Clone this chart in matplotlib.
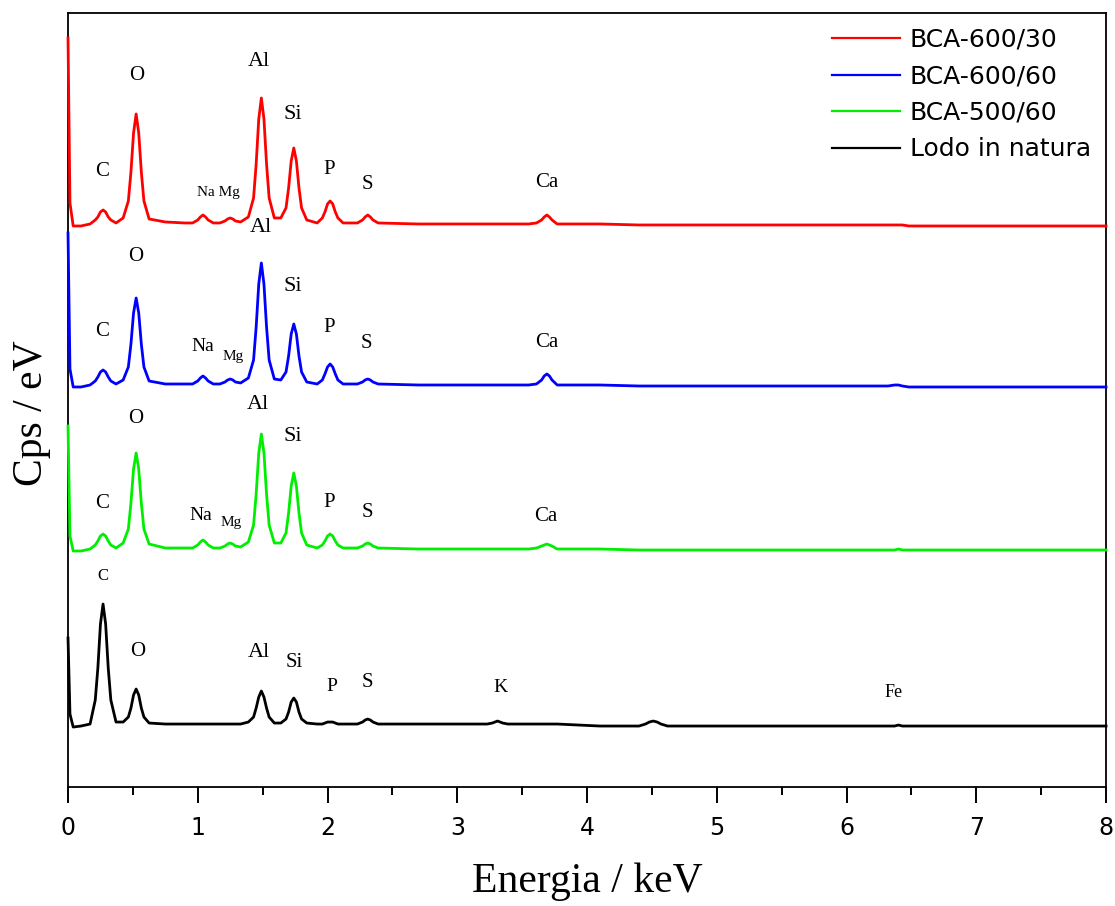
import numpy as np
import matplotlib.pyplot as plt

# energy grid (keV), denser around the peaks
energy = [
    0.000, 0.015, 0.04, 0.10, 0.17,                            # start spike
    0.21, 0.23, 0.25, 0.27, 0.29, 0.31, 0.33, 0.37,            # C
    0.425, 0.465, 0.485, 0.505, 0.525, 0.545, 0.565, 0.585, 0.625,  # O
    0.75, 0.90,
    0.96, 1.00, 1.02, 1.04, 1.06, 1.08, 1.12,                  # Na
    1.17, 1.21, 1.23, 1.25, 1.27, 1.29, 1.33,                  # Mg
    1.39, 1.43, 1.45, 1.47, 1.49, 1.51, 1.53, 1.55, 1.59,      # Al
    1.64, 1.68, 1.70, 1.72, 1.74, 1.76, 1.78, 1.80, 1.84,      # Si
    1.92, 1.96, 1.98, 2.00, 2.02, 2.04, 2.06, 2.08, 2.12,      # P
    2.23, 2.27, 2.29, 2.31, 2.33, 2.35, 2.39,                  # S
    2.70, 3.00,
    3.23, 3.27, 3.29, 3.31, 3.33, 3.35, 3.39,                  # K
    3.55, 3.61, 3.65, 3.67, 3.69, 3.71, 3.73, 3.77,            # Ca
    4.10,
    4.40, 4.45, 4.48, 4.51, 4.54, 4.57, 4.62,
    5.20, 5.80,
    6.32, 6.37, 6.40, 6.43, 6.48,                              # Fe
    7.00, 7.50, 8.00,
]

bca_600_30 = [
    185, 20, -3, -3, -1,
    3, 6, 11, 13, 11, 6, 3, 0,
    5, 22, 51, 90, 109, 90, 51, 22, 4,
    1, 0,
    0, 3, 6, 8, 6, 3, 0,
    0, 2, 4, 5, 4, 2, 1,
    6, 25, 59, 104, 125, 104, 59, 25, 5,
    5, 15, 35, 62, 75, 62, 35, 15, 3,
    0, 5, 11, 19, 22, 19, 11, 5, 0,
    0, 3, 6, 8, 6, 3, 0,
    -1, -1,
    -1, -1, -1, -1, -1, -1, -1,
    -1, 0, 3, 6, 8, 6, 3, -1,
    -1,
    -2, -2, -2, -2, -2, -2, -2,
    -2, -2,
    -2, -2, -2, -2, -3,
    -3, -3, -3,
]

bca_600_60 = [
    151, 15, -3, -3, -1,
    3, 7, 12, 14, 12, 7, 3, 0,
    4, 17, 40, 71, 86, 71, 40, 17, 3,
    0, 0,
    0, 3, 6, 8, 6, 3, 0,
    0, 2, 4, 5, 4, 2, 1,
    6, 24, 57, 100, 121, 100, 57, 24, 5,
    4, 12, 28, 50, 60, 50, 28, 12, 2,
    0, 4, 10, 17, 20, 17, 10, 4, 0,
    0, 2, 4, 5, 4, 2, 0,
    -1, -1,
    -1, -1, -1, -1, -1, -1, -1,
    -1, 0, 4, 8, 10, 8, 4, -1,
    -1,
    -2, -2, -2, -2, -2, -2, -2,
    -2, -2,
    -2, -1, -1, -2, -3,
    -3, -3, -3,
]

bca_500_60 = [
    122, 12, -3, -3, -1,
    3, 7, 12, 14, 12, 7, 3, 0,
    5, 19, 45, 79, 95, 79, 45, 19, 4,
    0, 0,
    0, 3, 6, 8, 6, 3, 0,
    0, 2, 4, 5, 4, 2, 1,
    6, 23, 54, 95, 114, 95, 54, 23, 5,
    5, 15, 35, 62, 75, 62, 35, 15, 3,
    0, 3, 7, 12, 14, 12, 7, 3, 0,
    0, 2, 4, 5, 4, 2, 0,
    -1, -1,
    -1, -1, -1, -1, -1, -1, -1,
    -1, 0, 2, 3, 4, 3, 2, -1,
    -1,
    -2, -2, -2, -2, -2, -2, -2,
    -2, -2,
    -2, -2, -1, -2, -2,
    -2, -2, -2,
]

lodo = [
    86, 10, -3, -2, 0,
    24, 56, 100, 120, 100, 56, 24, 2,
    2, 7, 16, 29, 35, 29, 16, 7, 1,
    0, 0,
    0, 0, 0, 0, 0, 0, 0,
    0, 0, 0, 0, 0, 0, 0,
    2, 7, 16, 27, 33, 27, 16, 7, 1,
    1, 5, 12, 22, 26, 22, 12, 5, 1,
    0, 0, 1, 2, 2, 2, 1, 0, 0,
    0, 2, 4, 5, 4, 2, 0,
    0, 0,
    0, 1, 2, 3, 2, 1, 0,
    0, 0, 0, 0, 0, 0, 0, 0,
    -2,
    -2, 0, 2, 3, 2, 0, -2,
    -2, -2,
    -2, -2, -1, -2, -2,
    -2, -2, -2,
]

names = ["BCA-600/30", "BCA-600/60", "BCA-500/60", "Lodo in natura"]
colors = ["#ff0000", "#0000ff", "#00ee00", "#000000"]
offsets = [564, 403, 239, 63]
series = [bca_600_30, bca_600_60, bca_500_60, lodo]

# peak labels: (text, energy, height, fontsize)
labels_red = [("C", 0.26, 615, 15), ("O", 0.53, 711, 15), ("Na Mg", 1.155, 594, 11),
              ("Al", 1.47, 725, 16), ("Si", 1.73, 672, 16), ("P", 2.01, 617, 15),
              ("S", 2.31, 602, 15), ("Ca", 3.69, 604, 15)]
labels_blue = [("C", 0.26, 455, 15), ("O", 0.52, 530, 15), ("Na", 1.04, 440, 14),
               ("Mg", 1.27, 430, 11), ("Al", 1.49, 559, 16), ("Si", 1.73, 500, 16),
               ("P", 2.01, 459, 15), ("S", 2.30, 443, 15), ("Ca", 3.69, 444, 15)]
labels_green = [("C", 0.26, 284, 15), ("O", 0.52, 369, 15), ("Na", 1.02, 272, 14),
                ("Mg", 1.255, 265, 11), ("Al", 1.46, 382, 16), ("Si", 1.73, 351, 16),
                ("P", 2.01, 285, 15), ("S", 2.31, 275, 15), ("Ca", 3.68, 271, 15)]
labels_black = [("C", 0.27, 211, 12), ("O", 0.54, 136, 15), ("Al", 1.47, 135, 16),
                ("Si", 1.74, 125, 15), ("P", 2.03, 101, 14), ("S", 2.31, 105, 15),
                ("K", 3.33, 100, 14), ("Fe", 6.36, 95, 13)]

fig = plt.figure(figsize=(11.15, 9.06), dpi=100)
ax = fig.add_axes([0.061, 0.1313, 0.931, 0.8544])

x = np.array(energy)
for vals, off, c, name in zip(series, offsets, colors, names):
    ax.plot(x, np.array(vals) + off, color=c, lw=2.0, label=name,
            clip_on=False, zorder=3, solid_joinstyle="round")

for lab in [labels_red, labels_blue, labels_green, labels_black]:
    for txt, e, h, fs in lab:
        ax.text(e, h, txt, ha="center", va="center", fontsize=fs,
                family="Liberation Serif")

ax.set_xlim(0, 8)
ax.set_ylim(0, 774)
ax.set_yticks([])
ax.set_xticks(range(0, 9))
ax.set_xticks(np.arange(0.5, 8, 1), minor=True)
ax.tick_params(axis="x", which="major", direction="out", length=11.5, width=1.4,
               pad=9, labelsize=17)
ax.tick_params(axis="x", which="minor", direction="out", length=6, width=1.4)
for lbl in ax.get_xticklabels():
    lbl.set_family("DejaVu Sans")
for sp in ax.spines.values():
    sp.set_linewidth(1.3)

ax.set_xlabel("Energia / keV", fontsize=30, family="Liberation Serif")
ax.set_ylabel("Cps / eV", fontsize=30, family="Liberation Serif")
ax.xaxis.set_label_coords(0.5, -0.098)
ax.yaxis.set_label_coords(-0.016, 0.483)

leg = ax.legend(loc="upper right", frameon=False, handlelength=2.7,
                labelspacing=0.5, borderaxespad=0.2, handletextpad=0.4,
                prop={"family": "DejaVu Sans", "size": 18})
for h in leg.get_lines():
    h.set_linewidth(1.6)

fig.savefig("out.png", dpi=100)
